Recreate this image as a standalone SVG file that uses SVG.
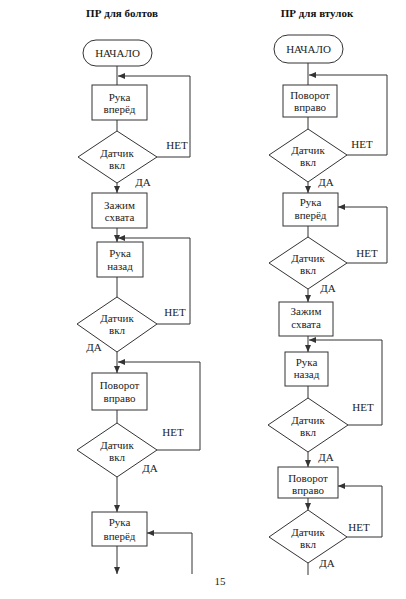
<svg xmlns="http://www.w3.org/2000/svg" width="406" height="599" viewBox="0 0 406 599">
<style>
.n{fill:#fff;stroke:#333;stroke-width:1}
.t{font-family:"Liberation Serif","Times New Roman",serif;font-size:11px;fill:#222;text-anchor:middle}
.h{font-family:"Liberation Serif","Times New Roman",serif;font-size:11px;font-weight:bold;fill:#111;text-anchor:middle}
.c{fill:none;stroke:#333;stroke-width:1}
</style>
<defs>
<marker id="a" markerUnits="userSpaceOnUse" markerWidth="8" markerHeight="6" refX="7" refY="3" orient="auto">
<path d="M0,0 L7,3 L0,6 Z" fill="#333"/>
</marker>
</defs>
<rect width="406" height="599" fill="#fff"/>
<text class="h" x="122" y="17">ПР для болтов</text>
<text class="h" x="317" y="17">ПР для втулок</text>
<text class="t" x="220" y="585">15</text>
<g id="connectors">
<!-- left -->
<path class="c" d="M117,66 V85"/>
<path class="c" d="M157,157 H190 V76 H118" marker-end="url(#a)"/>
<path class="c" d="M117,120 V131"/>
<path class="c" d="M117,183 V193" marker-end="url(#a)"/>
<path class="c" d="M117,228 V242" marker-end="url(#a)"/>
<path class="c" d="M157,324 H190 V238 H118" marker-end="url(#a)"/>
<path class="c" d="M117,277 V297"/>
<path class="c" d="M117,352 V373" marker-end="url(#a)"/>
<path class="c" d="M157,450 H200 V362 H118" marker-end="url(#a)"/>
<path class="c" d="M117,410 V423"/>
<path class="c" d="M117,477 V512" marker-end="url(#a)"/>
<path class="c" d="M117,546 V574" marker-end="url(#a)"/>
<path class="c" d="M192,574 V533 H147" marker-end="url(#a)"/>
<!-- right -->
<path class="c" d="M308,63 V85"/>
<path class="c" d="M347,155 H387 V75 H309" marker-end="url(#a)"/>
<path class="c" d="M308,117 V129"/>
<path class="c" d="M308,182 V193" marker-end="url(#a)"/>
<path class="c" d="M347,263 H387 V207 H338" marker-end="url(#a)"/>
<path class="c" d="M308,226 V237"/>
<path class="c" d="M308,289 V302" marker-end="url(#a)"/>
<path class="c" d="M308,336 V352" marker-end="url(#a)"/>
<path class="c" d="M348,425 H382 V340 H309" marker-end="url(#a)"/>
<path class="c" d="M308,386 V398"/>
<path class="c" d="M308,452 V467" marker-end="url(#a)"/>
<path class="c" d="M347,537 H382 V486 H338" marker-end="url(#a)"/>
<path class="c" d="M308,498 V510" marker-end="url(#a)"/>
<path class="c" d="M308,563 V575"/>
<!-- labels -->
<text class="t" x="177" y="149">НЕТ</text>
<text class="t" x="143" y="186">ДА</text>
<text class="t" x="175" y="316">НЕТ</text>
<text class="t" x="94" y="351">ДА</text>
<text class="t" x="173" y="436">НЕТ</text>
<text class="t" x="150" y="472">ДА</text>
<text class="t" x="362" y="148">НЕТ</text>
<text class="t" x="326" y="186">ДА</text>
<text class="t" x="367" y="257">НЕТ</text>
<text class="t" x="328" y="292">ДА</text>
<text class="t" x="363" y="411">НЕТ</text>
<text class="t" x="326" y="461">ДА</text>
<text class="t" x="359" y="531">НЕТ</text>
<text class="t" x="327" y="567">ДА</text>
</g>
<!-- left nodes -->
<g id="L_start"><rect class="n" x="83" y="40" width="69" height="26" rx="13"/><text class="t" x="117.5" y="57">НАЧАЛО</text></g>
<g id="L_b1"><rect class="n" x="92" y="85" width="55" height="35"/><text class="t" x="119.5" y="101">Рука</text><text class="t" x="119.5" y="113">вперёд</text></g>
<g id="L_d1"><polygon class="n" points="117,131 157,157 117,183 78,157"/><text class="t" x="117" y="157">Датчик</text><text class="t" x="117" y="169">вкл</text></g>
<g id="L_b2"><rect class="n" x="92" y="193" width="55" height="35"/><text class="t" x="119.5" y="209">Зажим</text><text class="t" x="119.5" y="221">схвата</text></g>
<g id="L_b3"><rect class="n" x="97" y="242" width="46" height="35"/><text class="t" x="120" y="257">Рука</text><text class="t" x="120" y="270">назад</text></g>
<g id="L_d2"><polygon class="n" points="117,297 157,324 117,352 77,324"/><text class="t" x="117" y="322">Датчик</text><text class="t" x="117" y="334">вкл</text></g>
<g id="L_b4"><rect class="n" x="92" y="373" width="55" height="37"/><text class="t" x="119.5" y="389">Поворот</text><text class="t" x="119.5" y="402">вправо</text></g>
<g id="L_d3"><polygon class="n" points="117,423 157,450 117,477 77,450"/><text class="t" x="117" y="449">Датчик</text><text class="t" x="117" y="461">вкл</text></g>
<g id="L_b5"><rect class="n" x="92" y="512" width="55" height="34"/><text class="t" x="119.5" y="526">Рука</text><text class="t" x="119.5" y="540">вперёд</text></g>
<!-- right nodes -->
<g id="R_start"><rect class="n" x="274" y="35" width="69" height="28" rx="14"/><text class="t" x="308.5" y="53">НАЧАЛО</text></g>
<g id="R_b1"><rect class="n" x="283" y="85" width="54" height="32"/><text class="t" x="310" y="99">Поворот</text><text class="t" x="310" y="111">вправо</text></g>
<g id="R_d1"><polygon class="n" points="308,129 347,155 308,182 269,155"/><text class="t" x="308" y="154">Датчик</text><text class="t" x="308" y="166">вкл</text></g>
<g id="R_b2"><rect class="n" x="283" y="193" width="55" height="33"/><text class="t" x="310.5" y="206">Рука</text><text class="t" x="310.5" y="219">вперёд</text></g>
<g id="R_d2"><polygon class="n" points="308,237 347,263 308,289 269,263"/><text class="t" x="308" y="262">Датчик</text><text class="t" x="308" y="274">вкл</text></g>
<g id="R_b3"><rect class="n" x="279" y="302" width="54" height="34"/><text class="t" x="306" y="315">Зажим</text><text class="t" x="306" y="328">схвата</text></g>
<g id="R_b4"><rect class="n" x="285" y="352" width="43" height="34"/><text class="t" x="306.5" y="366">Рука</text><text class="t" x="306.5" y="378">назад</text></g>
<g id="R_d3"><polygon class="n" points="308,398 348,425 308,452 268,425"/><text class="t" x="308" y="424">Датчик</text><text class="t" x="308" y="436">вкл</text></g>
<g id="R_b5"><rect class="n" x="278" y="467" width="60" height="31"/><text class="t" x="308" y="482">Поворот</text><text class="t" x="308" y="494">вправо</text></g>
<g id="R_d4"><polygon class="n" points="308,510 347,537 308,563 269,537"/><text class="t" x="308" y="536">Датчик</text><text class="t" x="308" y="548">вкл</text></g>
</svg>
